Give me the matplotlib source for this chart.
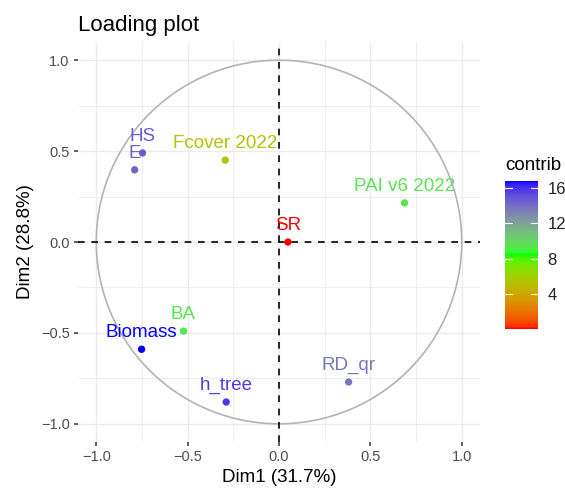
import numpy as np
import matplotlib
matplotlib.use("Agg")
from matplotlib import pyplot as plt
from matplotlib.colors import ListedColormap, Normalize
from matplotlib.colorbar import ColorbarBase

plt.rcParams['font.family'] = ['Liberation Sans', 'DejaVu Sans']

# variable coordinates (Dim1, Dim2) and contributions
var_names = ["HS", "E", "Fcover 2022", "PAI v6 2022", "SR", "BA", "Biomass", "h_tree", "RD_qr"]
dim1 = [-0.747, -0.790, -0.294, 0.687, 0.049, -0.523, -0.752, -0.289, 0.381]
dim2 = [0.490, 0.397, 0.450, 0.215, 0.000, -0.490, -0.590, -0.880, -0.770]
contrib = [14.7, 14.4, 5.3, 9.5, 0.04, 9.4, 16.8, 15.8, 13.6]
grad_cols = ["#FF0000", "#00FF00", "#0000FF"]
cbar_ticks = [4, 8, 12, 16]


# ggplot interpolates gradients in Lab space, do the same here
def hex2rgb(h):
    return np.array([int(h[i:i + 2], 16) for i in (1, 3, 5)]) / 255.0

M = np.array([[0.4124, 0.3576, 0.1805],
              [0.2126, 0.7152, 0.0722],
              [0.0193, 0.1192, 0.9505]])
WHITE = np.array([0.95047, 1.0, 1.08883])

def rgb2lab(c):
    lin = np.where(c <= 0.04045, c / 12.92, ((c + 0.055) / 1.055) ** 2.4)
    xyz = M @ lin / WHITE
    f = np.where(xyz > (6 / 29) ** 3, np.cbrt(xyz), xyz / (3 * (6 / 29) ** 2) + 4 / 29)
    return np.array([116 * f[1] - 16, 500 * (f[0] - f[1]), 200 * (f[1] - f[2])])

def lab2rgb(lab):
    fy = (lab[0] + 16) / 116
    fx = fy + lab[1] / 500
    fz = fy - lab[2] / 200
    f = np.array([fx, fy, fz])
    xyz = np.where(f > 6 / 29, f ** 3, 3 * (6 / 29) ** 2 * (f - 4 / 29)) * WHITE
    lin = np.linalg.solve(M, xyz)
    lin = np.clip(lin, 0, 1)
    c = np.where(lin <= 0.0031308, 12.92 * lin, 1.055 * lin ** (1 / 2.4) - 0.055)
    return np.clip(c, 0, 1)

labs = [rgb2lab(hex2rgb(h)) for h in grad_cols]
cols = []
for t in np.linspace(0, 1, 256):
    seg = min(int(t * 2), 1)
    u = t * 2 - seg
    cols.append(lab2rgb(labs[seg] * (1 - u) + labs[seg + 1] * u))
cmap = ListedColormap(cols)
norm = Normalize(vmin=min(contrib), vmax=max(contrib))

fig = plt.figure(figsize=(5.65, 4.88), dpi=100)
ax = fig.add_axes([78 / 565, 46 / 488, 402 / 565, 400 / 488])

ax.set_xlim(-1.1, 1.1)
ax.set_ylim(-1.1, 1.1)
for v in [-1, -0.5, 0, 0.5, 1]:
    ax.axvline(v, color="#EBEBEB", lw=1.0, zorder=0)
    ax.axhline(v, color="#EBEBEB", lw=1.0, zorder=0)
for v in [-0.75, -0.25, 0.25, 0.75]:
    ax.axvline(v, color="#EBEBEB", lw=0.6, zorder=0)
    ax.axhline(v, color="#EBEBEB", lw=0.6, zorder=0)

th = np.linspace(0, 2 * np.pi, 400)
ax.plot(np.cos(th), np.sin(th), color="#B3B3B3", lw=1.2, zorder=1)
ax.axhline(0, color="black", lw=1.2, ls=(0, (4, 4)), zorder=2)
ax.axvline(0, color="black", lw=1.2, ls=(0, (4, 4)), zorder=2)

pt_cols = cmap(norm(np.array(contrib)))
ax.scatter(dim1, dim2, c=pt_cols, s=28, zorder=3, linewidths=0)
for name, x, y, c in zip(var_names, dim1, dim2, pt_cols):
    ax.annotate(name, (x, y), xytext=(0, 12), textcoords="offset points",
                ha="center", va="center", color=c, fontsize=13.5, zorder=4)

for s in ax.spines.values():
    s.set_visible(False)
ax.set_xticks([-1, -0.5, 0, 0.5, 1])
ax.set_yticks([-1, -0.5, 0, 0.5, 1])
ax.set_xticklabels(["\u22121.0", "\u22120.5", "0.0", "0.5", "1.0"])
ax.set_yticklabels(["\u22121.0", "\u22120.5", "0.0", "0.5", "1.0"])
ax.tick_params(length=3, width=1.1, color="#333333", labelcolor="#4D4D4D",
               labelsize=10.5, pad=3)
ax.set_xlabel("Dim1 (31.7%)", fontsize=13.5, color="black", labelpad=3)
ax.set_ylabel("Dim2 (28.8%)", fontsize=13.5, color="black", labelpad=5)
ax.set_title("Loading plot", loc="left", fontsize=16, pad=8)

cax = fig.add_axes([505 / 565, 159 / 488, 33 / 565, 148 / 488])
cb = ColorbarBase(cax, cmap=cmap, norm=norm, orientation="vertical")
cb.outline.set_visible(False)
cb.set_ticks(cbar_ticks)
cax.tick_params(length=0, labelsize=12, labelcolor="#222222", pad=7)
for t in cbar_ticks:
    cax.plot([0, 0.2], [t, t], color="white", lw=0.8, transform=cax.get_yaxis_transform())
    cax.plot([0.8, 1], [t, t], color="white", lw=0.8, transform=cax.get_yaxis_transform())
cax.set_title("contrib", fontsize=13.5, loc="left", pad=8)

fig.savefig("out.png", dpi=100)
